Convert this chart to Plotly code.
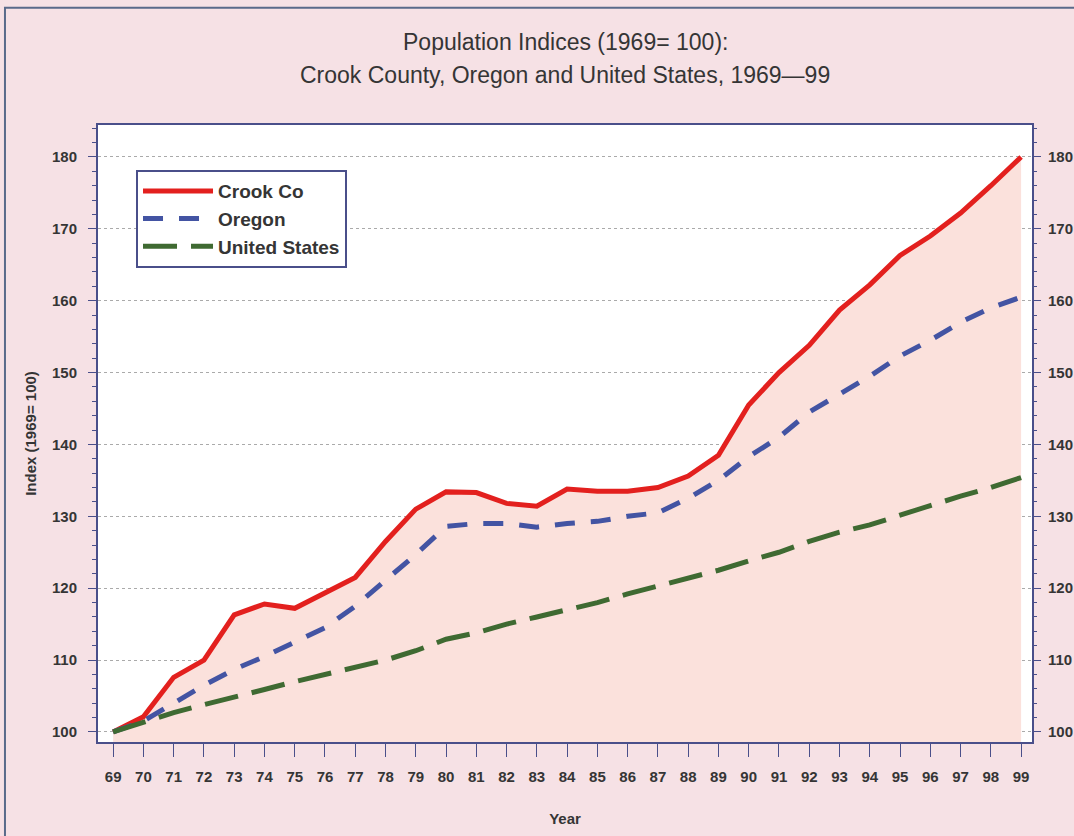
import plotly.graph_objects as go

years = list(range(69, 100))
year_labels = [str(y) for y in years]

crook = [100, 102.1, 107.6, 110.0, 116.3, 117.8, 117.2, 119.3, 121.5, 126.5, 131.0,
         133.4, 133.3, 131.8, 131.4, 133.8, 133.5, 133.5, 134.0, 135.6, 138.5,
         145.5, 150.0, 153.8, 158.7, 162.2, 166.3, 169.0, 172.2, 176.0, 180.0]
oregon = [100, 101.5, 104.0, 106.5, 108.7, 110.5, 112.5, 114.5, 117.5, 121.0, 124.7,
          128.6, 129.0, 129.0, 128.5, 129.0, 129.3, 130.0, 130.5, 132.5, 135.0,
          138.3, 141.0, 144.5, 147.0, 149.5, 152.3, 154.5, 157.0, 159.0, 160.5]
us = [100, 101.3, 102.7, 103.8, 104.8, 105.9, 107.0, 108.0, 109.0, 110.0, 111.3,
      112.9, 113.8, 115.0, 116.0, 117.0, 118.0, 119.2, 120.3, 121.3, 122.5,
      123.8, 125.0, 126.5, 127.8, 128.8, 130.2, 131.5, 132.8, 134.0, 135.4]

y_ticks = [100, 110, 120, 130, 140, 150, 160, 170, 180]
title_lines = ["Population Indices (1969= 100):",
               "Crook County, Oregon and United States, 1969\u201499"]

fig = go.Figure()
fig.add_trace(go.Scatter(x=years, y=crook, mode="lines", fill="tozeroy",
                         fillcolor="#fbe1dc", line=dict(width=0), showlegend=False,
                         hoverinfo="skip"))
fig.add_trace(go.Scatter(x=years, y=crook, mode="lines", name="Crook Co",
                         line=dict(color="#e3201e", width=5)))
fig.add_trace(go.Scatter(x=years, y=oregon, mode="lines", name="Oregon",
                         line=dict(color="#4354a3", width=5, dash="20px,16px")))
fig.add_trace(go.Scatter(x=years, y=us, mode="lines", name="United States",
                         line=dict(color="#3f6a32", width=5, dash="34px,14px")))
fig.add_trace(go.Scatter(x=years, y=crook, mode="lines", yaxis="y2",
                         line=dict(width=0, color="rgba(0,0,0,0)"),
                         showlegend=False, hoverinfo="skip"))

txt = "#353535"
tickfont = dict(family="Arial", size=15, color=txt, weight="bold")
axis_color = "#4a4f8a"

fig.update_layout(
    width=1074, height=836,
    paper_bgcolor="#f6e1e5",
    plot_bgcolor="#ffffff",
    margin=dict(l=98, r=42, t=125, b=94, autoexpand=False),
    xaxis=dict(range=[68.5, 99.36], tickmode="array", tickvals=years, ticktext=year_labels,
               ticks="outside", ticklen=13, tickcolor=axis_color, tickwidth=1,
               ticklabelstandoff=7,
               showline=True, linecolor=axis_color, linewidth=2, mirror=True,
               showgrid=False, zeroline=False, tickfont=tickfont,
               title=dict(text="Year", font=dict(family="Arial", size=15, color=txt, weight="bold"),
                          standoff=29)),
    yaxis=dict(range=[98.6, 184.45], tickmode="array", tickvals=y_ticks,
               ticks="outside", ticklen=8, tickcolor=axis_color, ticklabelstandoff=8,
               showline=True, linecolor=axis_color, linewidth=2, mirror=True,
               showgrid=True, gridcolor="#aaaaaa", griddash="dot", gridwidth=1,
               zeroline=False, tickfont=tickfont,
               minor=dict(dtick=2, tick0=100, ticks="outside", ticklen=4, tickcolor=axis_color, showgrid=False),
               title=dict(text="Index (1969= 100)", font=dict(family="Arial", size=15, color=txt, weight="bold"),
                          standoff=12)),
    yaxis2=dict(range=[98.6, 184.45], overlaying="y", side="right", tickmode="array",
                tickvals=y_ticks, ticks="outside", ticklen=8, tickcolor=axis_color,
                ticklabelstandoff=4,
                showline=False, showgrid=False, zeroline=False, tickfont=tickfont,
                minor=dict(dtick=2, tick0=100, ticks="outside", ticklen=4, tickcolor=axis_color, showgrid=False)),
    legend=dict(x=0.0407, y=0.927, xanchor="left", yanchor="top",
                bgcolor="#ffffff", bordercolor=axis_color, borderwidth=2,
                font=dict(family="Arial", size=19, color=txt, weight="bold"),
                itemwidth=70, tracegroupgap=0),
    showlegend=True,
    annotations=[
        dict(text=title_lines[0], xref="paper", yref="paper", x=0.5, y=(742 - 42) / 617,
             xanchor="center", yanchor="middle", showarrow=False,
             font=dict(family="Arial", size=23, color=txt)),
        dict(text=title_lines[1], xref="paper", yref="paper", x=0.5, y=(742 - 75) / 617,
             xanchor="center", yanchor="middle", showarrow=False,
             font=dict(family="Arial", size=23, color=txt)),
    ],
    shapes=[dict(type="rect", xref="paper", yref="paper", x0=-0.0996, x1=1.1,
                 y0=-0.3, y1=1.19, line=dict(color="#5a6a8a", width=2),
                 fillcolor="rgba(0,0,0,0)", layer="below")],
)

fig.write_html("out.html", config={"displayModeBar": False},
               post_script="document.body.style.margin='0';document.body.style.padding='0';")
